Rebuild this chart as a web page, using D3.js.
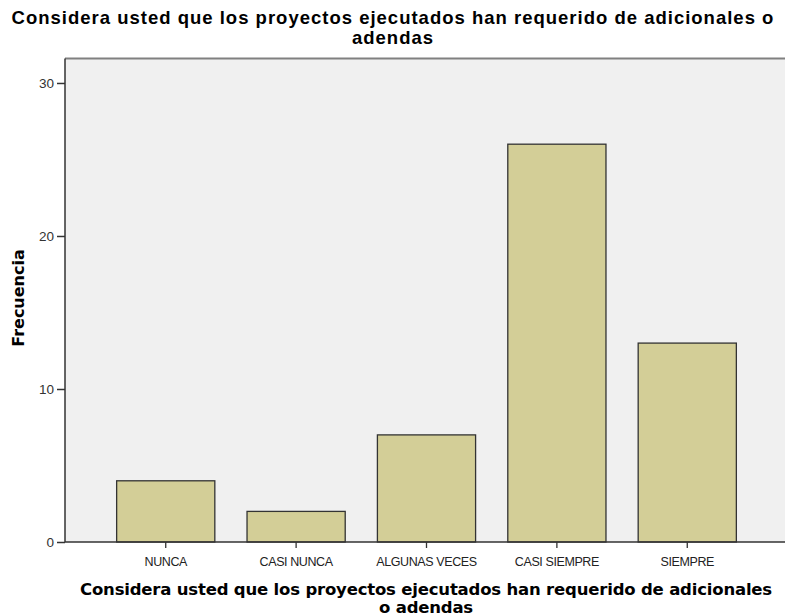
<!DOCTYPE html>
<html><head><meta charset="utf-8">
<script src="https://cdn.jsdelivr.net/npm/d3@7"></script>
<style>body{margin:0;background:#fff}svg{display:block}</style>
</head><body>
<script>
const categories = ["NUNCA","CASI NUNCA","ALGUNAS VECES","CASI SIEMPRE","SIEMPRE"];
const values = [4,2,7,26,13];
const yTicks = [0,10,20,30];
const titleLines = ["Considera usted que los proyectos ejecutados han requerido de adicionales o","adendas"];
const xTitleLines = ["Considera usted que los proyectos ejecutados han requerido de adicionales","o adendas"];
const yTitle = "Frecuencia";

const W=785,H=616;
const svg=d3.select("body").append("svg").attr("width",W).attr("height",H);
const plot={l:65,t:58.5,r:785,b:542};
const y=d3.scaleLinear().domain([0,31.6]).range([plot.b,plot.t]);
const x=d3.scaleBand().domain(categories).range([101,752]).paddingInner(0.247).paddingOuter(0.12);

svg.append("rect").attr("x",plot.l).attr("y",plot.t).attr("width",plot.r-plot.l).attr("height",plot.b-plot.t).attr("fill","#f0f0f0");
svg.append("line").attr("x1",plot.l).attr("x2",plot.r).attr("y1",plot.t).attr("y2",plot.t).attr("stroke","#808080").attr("stroke-width",2);

svg.selectAll("rect.bar").data(values).enter().append("rect").attr("class","bar")
 .attr("x",(d,i)=>x(categories[i])).attr("y",d=>y(d)).attr("width",x.bandwidth()).attr("height",d=>y(0)-y(d))
 .attr("fill","#d3ce97").attr("stroke","#333").attr("stroke-width",1.3);

const ya=svg.append("g").attr("transform",`translate(${plot.l},0)`).call(d3.axisLeft(y).tickValues(yTicks).tickSize(8).tickPadding(3));
ya.select(".domain").attr("stroke","#333").attr("stroke-width",1.5).attr("d",`M0,${plot.t}V${plot.b}`);
ya.selectAll(".tick line").attr("stroke","#333").attr("stroke-width",1.5);
ya.selectAll("text").attr("font-family","Liberation Sans, Arial, sans-serif").attr("font-size",13.5).attr("fill","#333");

const xa=svg.append("g").attr("transform",`translate(0,${plot.b})`).call(d3.axisBottom(x).tickSize(6).tickPadding(9));
xa.select(".domain").attr("stroke","#333").attr("stroke-width",1.5).attr("d",`M${plot.l},0H${plot.r}`);
xa.selectAll(".tick line").attr("stroke","#333").attr("stroke-width",1.3);
xa.selectAll("text").attr("font-family","Liberation Sans, Arial, sans-serif").attr("font-size",12.5).attr("fill","#222").attr("letter-spacing","-0.4px");

function fitLines(sel, lines, cx, y0, dy, target){
  const ts=lines.map((s,i)=>sel.append("tspan").attr("x",cx).attr("y",y0+i*dy).text(s));
  const w=ts[0].node().getComputedTextLength();
  const ls=(target-w)/lines[0].length;
  sel.attr("letter-spacing",ls.toFixed(2)+"px");
}
const t=svg.append("text").attr("text-anchor","middle").attr("font-family","Liberation Sans, Arial, sans-serif").attr("font-weight","bold").attr("font-size",18.5).attr("fill","#000");
fitLines(t,titleLines,393,24,19.5,763);

const xt=svg.append("text").attr("text-anchor","middle").attr("font-family","DejaVu Sans, sans-serif").attr("font-weight","bold").attr("font-size",16.5).attr("fill","#000");
fitLines(xt,xTitleLines,426,595,18,692);

svg.append("text").attr("transform","translate(24,298) rotate(-90)").attr("text-anchor","middle").attr("font-family","DejaVu Sans, sans-serif").attr("font-weight","bold").attr("font-size",16).attr("fill","#000").text(yTitle);
</script>
</body></html>
